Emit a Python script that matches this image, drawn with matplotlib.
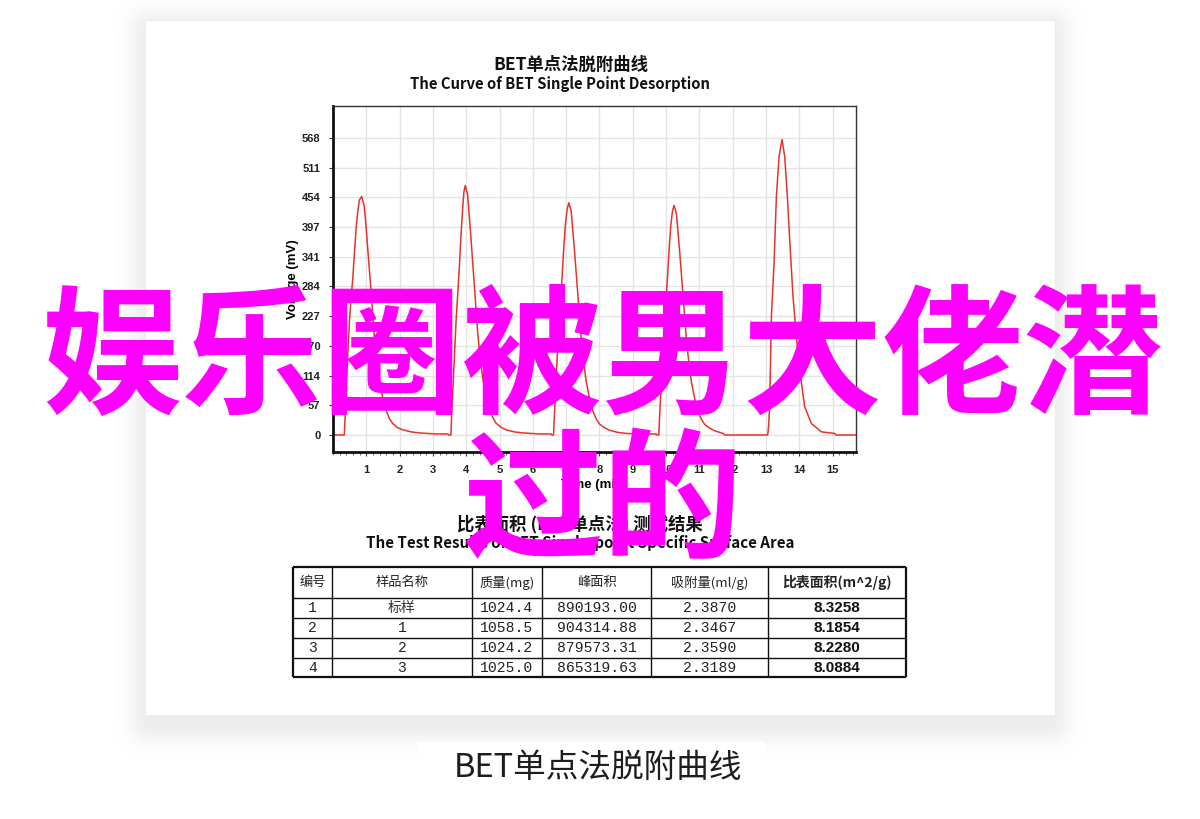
import matplotlib
matplotlib.use('Agg')
import matplotlib.pyplot as plt
import numpy as np
from matplotlib.patches import Rectangle
from matplotlib.ticker import MultipleLocator

plt.rcParams['font.family'] = ['Noto Sans CJK SC', 'DejaVu Sans']

# ---------------- data ----------------
chart_title_cn = "BET单点法脱附曲线"
chart_title_en = "The Curve of BET Single Point Desorption"
x_label = "Time (min)"
y_label = "Voltage (mV)"
x_ticks = list(range(1, 16))
y_ticks = [0, 56.8, 113.6, 170.4, 227.2, 284.0, 340.8, 397.6, 454.4, 511.2, 568.0]
y_tick_labels = ["0", "57", "114", "170", "227", "284", "341", "397", "454", "511", "568"]

peak1_t = [0.00, 0.34, 0.36, 0.39, 0.44, 0.49, 0.54, 0.59, 0.64, 0.69, 0.74, 0.79, 0.86,
           0.94, 0.99, 1.04, 1.09, 1.14, 1.19, 1.24, 1.31, 1.39, 1.49, 1.59, 1.69, 1.79,
           1.94, 2.09, 2.34, 2.59, 3.08, 3.45, 3.47]
peak1_v = [0, 0, 30, 80, 150, 214, 260, 296, 345, 392, 425, 449, 456,
           437, 400, 360, 318, 277, 232, 188, 145, 105, 72, 48, 32, 22,
           14, 10, 6, 4, 2, 2, 0]
peak2_t = [3.54, 3.56, 3.60, 3.65, 3.70, 3.75, 3.80, 3.85, 3.90, 3.93, 3.97,
           4.04, 4.09, 4.14, 4.19, 4.24, 4.29, 4.34, 4.41, 4.49, 4.59, 4.69, 4.79,
           4.89, 5.04, 5.19, 5.44, 5.69, 6.19, 6.55, 6.57]
peak2_v = [0, 35, 90, 160, 225, 275, 330, 390, 440, 465, 477,
           460, 420, 378, 334, 290, 244, 198, 152, 110, 76, 50, 34,
           23, 15, 10, 6, 4, 2, 2, 0]
peak3_t = [6.62, 6.64, 6.68, 6.73, 6.78, 6.83, 6.88, 6.93, 6.98, 7.03, 7.08,
           7.15, 7.20, 7.25, 7.30, 7.35, 7.40, 7.45, 7.52, 7.60, 7.70, 7.80, 7.90,
           8.00, 8.15, 8.30, 8.55, 8.80, 9.30, 9.70, 9.72]
peak3_v = [0, 30, 80, 150, 210, 255, 305, 360, 405, 432, 444,
           428, 390, 352, 310, 270, 228, 185, 142, 103, 70, 46, 31,
           21, 14, 9, 5, 3, 2, 2, 0]
peak4_t = [9.78, 9.80, 9.84, 9.89, 9.94, 9.99, 10.04, 10.09, 10.14, 10.19, 10.24,
           10.31, 10.36, 10.41, 10.46, 10.51, 10.56, 10.61, 10.68, 10.76, 10.86, 10.96,
           11.06, 11.16, 11.31, 11.46, 11.71, 11.76, 13.03]
peak4_v = [0, 30, 80, 148, 208, 252, 300, 355, 400, 428, 439,
           423, 386, 348, 306, 266, 224, 182, 140, 101, 69, 45,
           30, 20, 13, 8, 3, 0, 0]
peak5_t = [13.05, 13.08, 13.11, 13.16, 13.24, 13.31, 13.39, 13.48, 13.56, 13.64, 13.71,
           13.81, 13.91, 14.01, 14.16, 14.36, 14.66, 15.06, 15.10, 15.70]
peak5_v = [0, 20, 61, 226, 328, 456, 532, 565, 532, 456, 373,
           264, 188, 124, 54, 22, 6, 3, 0, 0]

table_title_cn = "比表面积 (BET单点法) 测试结果"
table_title_en = "The Test Results of BET Single-point Specific Surface Area"
headers = ["编号", "样品名称", "质量(mg)", "峰面积", "吸附量(ml/g)", "比表面积(m^2/g)"]
sample_ids = ["1", "2", "3", "4"]
sample_names = ["标样", "1", "2", "3"]
mass_mg = ["1024.4", "1058.5", "1024.2", "1025.0"]
peak_area = ["890193.00", "904314.88", "879573.31", "865319.63"]
adsorption = ["2.3870", "2.3467", "2.3590", "2.3189"]
surface_area = ["8.3258", "8.1854", "8.2280", "8.0884"]

caption = "BET单点法脱附曲线"
overlay_line1 = "娱乐圈被男大佬潜"
overlay_line2 = "过的"

# ---------------- figure ----------------
W, H = 1200, 819
fig = plt.figure(figsize=(12, 8.19), dpi=100)
fig.patch.set_facecolor('white')

bg = fig.add_axes([0, 0, 1, 1], zorder=-1)
bg.axis('off')

# soft drop shadow behind the card
yy, xx = np.mgrid[0:H, 0:W] + 0.5
sx0, sx1, sy0, sy1 = 150, 1050, 30, 722
dx = np.maximum(np.maximum(sx0 - xx, xx - sx1), 0)
dy = np.maximum(np.maximum(sy0 - yy, yy - sy1), 0)
dist = np.hypot(dx, dy)
shadow = np.ones((H, W, 4))
shadow[..., :3] = 0.45
shadow[..., 3] = 0.13 * np.exp(-(dist / 20.0) ** 2)
bg.imshow(shadow, extent=(0, W, H, 0), interpolation='bilinear', zorder=0)

bg.add_patch(Rectangle((145, 20), 910, 695, facecolor='white', edgecolor='#ececec', lw=0.6, zorder=1))
bg.add_patch(Rectangle((418, 742), 347, 56, facecolor='white', edgecolor='none', zorder=1))
bg.text(598, 768, caption, ha='center', va='center', fontsize=23.5, color='#1e1e1e', zorder=2)

# chart titles
bg.text(571, 65, chart_title_cn, ha='center', va='center', fontsize=12.5, fontweight='bold', color='#111', zorder=2)
bg.text(560, 84, chart_title_en, ha='center', va='center', fontsize=10.7, fontweight='bold', color='#111', zorder=2)

# table titles
bg.text(580, 524, table_title_cn, ha='center', va='center', fontsize=12.5, fontweight='bold', color='#111', zorder=2)
bg.text(580, 543, table_title_en, ha='center', va='center', fontsize=10.9, fontweight='bold', color='#111', zorder=2)

# table
col_x = [293, 332, 472, 542, 651, 768, 906]
row_y = [567, 598, 618, 638, 658, 677]
for x in col_x:
    lw = 1.6 if x in (col_x[0], col_x[-1]) else 1.0
    bg.plot([x, x], [row_y[0], row_y[-1]], color='#111', lw=lw, solid_capstyle='butt', zorder=2)
for y in row_y:
    lw = 1.6 if y in (row_y[0], row_y[-1]) else 1.0
    bg.plot([col_x[0], col_x[-1]], [y, y], color='#111', lw=lw, solid_capstyle='butt', zorder=2)

centers = [(col_x[i] + col_x[i + 1]) / 2 for i in range(6)]
for i, h in enumerate(headers):
    bold = (i == 5)
    bg.text(centers[i], (row_y[0] + row_y[1]) / 2, h, ha='center', va='center',
            fontsize=10 if bold else 9.5, fontweight='bold' if bold else 'normal', color='#222', zorder=2)
columns = [sample_ids, sample_names, mass_mg, peak_area, adsorption, surface_area]
for r in range(4):
    yc = (row_y[r + 1] + row_y[r + 2]) / 2
    for c, col in enumerate(columns):
        val = col[r]
        if c == 5:
            bg.text(centers[c], yc, val, ha='center', va='center', fontsize=11,
                    fontweight='bold', family='Liberation Sans', color='#111', zorder=2)
        elif c == 1 and val == "标样":
            bg.text(centers[c], yc, val, ha='center', va='center', fontsize=10, color='#333', zorder=2)
        else:
            bg.text(centers[c], yc, val, ha='center', va='center', fontsize=10.6,
                    family='Liberation Mono', color='#222', zorder=2)

bg.set_xlim(0, W)
bg.set_ylim(H, 0)

# chart axes
ax = fig.add_axes([333 / W, 1 - 452 / H, 523 / W, 346 / H], zorder=0)
t = peak1_t + peak2_t + peak3_t + peak4_t + peak5_t
v = peak1_v + peak2_v + peak3_v + peak4_v + peak5_v
ax.plot(t, v, color='#e8322b', lw=1.1)
ax.set_xlim(0, 15.7)
ax.set_ylim(-32.5, 629)
ax.set_xticks(x_ticks)
ax.set_xticklabels([str(x) for x in x_ticks])
ax.xaxis.set_minor_locator(MultipleLocator(0.2))
ax.set_yticks(y_ticks)
ax.set_yticklabels(y_tick_labels)
ax.grid(True, which='major', color='#e4e4e4', lw=1)
ax.set_axisbelow(True)
for s in ['left', 'bottom']:
    ax.spines[s].set_linewidth(2)
    ax.spines[s].set_color('#111')
for s in ['top', 'right']:
    ax.spines[s].set_linewidth(1)
    ax.spines[s].set_color('#333')
ax.tick_params(axis='both', which='major', length=3, width=0.8, colors='#333', pad=6)
ax.tick_params(axis='x', which='minor', length=2, width=0.6, colors='#555')
for lab in ax.get_xticklabels() + ax.get_yticklabels():
    lab.set_fontfamily('Liberation Sans')
    lab.set_fontweight('bold')
    lab.set_fontsize(8)
    lab.set_color('#222')
ax.set_xlabel(x_label, fontsize=9.5, fontweight='bold', family='Liberation Sans', labelpad=3)
ax.set_ylabel(y_label, fontsize=9.5, fontweight='bold', family='Liberation Sans', labelpad=2)

# overlay magenta text
fig.text(602 / W, 1 - 362 / H, overlay_line1, ha='center', va='center', fontsize=101,
         fontweight='bold', color='#ff00ff', zorder=10)
fig.text(602 / W, 1 - 506 / H, overlay_line2, ha='center', va='center', fontsize=101,
         fontweight='bold', color='#ff00ff', zorder=10)

fig.savefig('out.png', dpi=100, facecolor='white')
